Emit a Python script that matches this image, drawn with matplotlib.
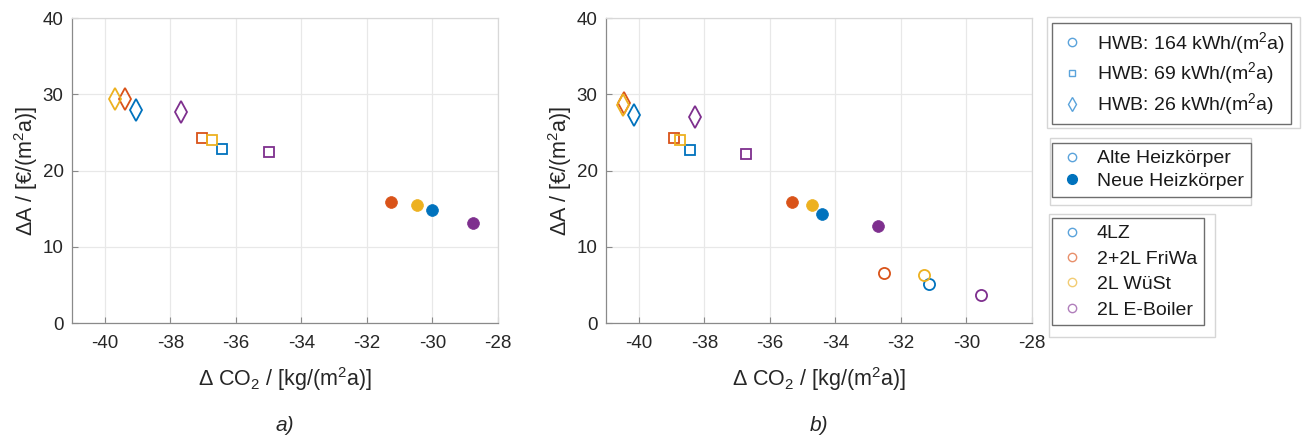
import numpy as np
import matplotlib
matplotlib.use("Agg")
import matplotlib.pyplot as plt
from matplotlib.lines import Line2D
from matplotlib.patches import Rectangle

plt.rcParams['font.family'] = ['Liberation Sans', 'DejaVu Sans']
plt.rcParams['mathtext.fontset'] = 'custom'
plt.rcParams['mathtext.rm'] = 'Liberation Sans'
plt.rcParams['mathtext.it'] = 'Liberation Sans:italic'
plt.rcParams['axes.unicode_minus'] = False

# systems (order: 4LZ, 2+2L FriWa, 2L WüSt, 2L E-Boiler)
systems = ['4LZ', '2+2L FriWa', '2L WüSt', '2L E-Boiler']
colors = ['#0072BD', '#D95319', '#EDB120', '#7E2F8E']

# panel a)
a_co2_26 = [-39.06, -39.38, -39.69, -37.66]
a_cost_26 = [27.95, 29.44, 29.36, 27.7]
a_co2_69 = [-36.41, -37.04, -36.72, -35.0]
a_cost_69 = [22.8, 24.3, 24.06, 22.44]
a_co2_164_new = [-30.02, -31.26, -30.48, -28.76]
a_cost_164_new = [14.79, 15.84, 15.45, 13.16]

# panel b)
b_co2_26 = [-40.14, -40.46, -40.48, -38.29]
b_cost_26 = [27.3, 28.9, 28.65, 27.1]
b_co2_69 = [-38.44, -38.91, -38.75, -36.73]
b_cost_69 = [22.77, 24.3, 24.08, 22.2]
b_co2_164_new = [-34.40, -35.33, -34.71, -32.69]
b_cost_164_new = [14.25, 15.9, 15.47, 12.77]
b_co2_164_old = [-31.13, -32.53, -31.29, -29.57]
b_cost_164_old = [5.07, 6.55, 6.34, 3.67]

hwb_labels = ['HWB: 164 kWh/(m$^2$a)', 'HWB: 69 kWh/(m$^2$a)', 'HWB: 26 kWh/(m$^2$a)']
radiator_labels = ['Alte Heizkörper', 'Neue Heizkörper']

W, H = 1303, 437
fig = plt.figure(figsize=(W / 100, H / 100), dpi=100)


def frac(x0, y0, x1, y1):
    # pixel box (top-left origin) -> figure fraction [left, bottom, width, height]
    return [x0 / W, 1 - y1 / H, (x1 - x0) / W, (y1 - y0) / H]


ax_a = fig.add_axes(frac(72, 18.3, 498, 323))
ax_b = fig.add_axes(frac(606, 18.3, 1032, 323))


def open_pts(ax, xs, ys, marker, ms):
    for x, y, c in zip(xs, ys, colors):
        ax.plot(x, y, linestyle='none', marker=marker, ms=ms, mfc='none',
                mec=c, mew=1.3)


def filled_pts(ax, xs, ys, ms):
    for x, y, c in zip(xs, ys, colors):
        ax.plot(x, y, linestyle='none', marker='o', ms=ms, mfc=c, mec=c, mew=0.5)


open_pts(ax_a, a_co2_26, a_cost_26, 'd', 11)
open_pts(ax_a, a_co2_69, a_cost_69, 's', 6.5)
filled_pts(ax_a, a_co2_164_new, a_cost_164_new, 8.5)

open_pts(ax_b, b_co2_26, b_cost_26, 'd', 11)
open_pts(ax_b, b_co2_69, b_cost_69, 's', 6.5)
filled_pts(ax_b, b_co2_164_new, b_cost_164_new, 8.5)
open_pts(ax_b, b_co2_164_old, b_cost_164_old, 'o', 8)

for ax, tag in [(ax_a, 'a)'), (ax_b, 'b)')]:
    ax.set_xlim(-41, -28)
    ax.set_ylim(0, 40)
    ax.set_xticks(np.arange(-40, -27, 2))
    ax.set_yticks(np.arange(0, 41, 10))
    ax.grid(True, color='#e8e8e8', lw=0.9)
    ax.set_axisbelow(True)
    for s in ax.spines.values():
        s.set_color('#8a8a8a')
        s.set_linewidth(0.9)
    ax.spines['top'].set_color('#d8d8d8')
    ax.spines['right'].set_color('#d8d8d8')
    ax.tick_params(direction='in', length=4, width=0.8, color='#8a8a8a',
                   labelsize=13.5, labelcolor='#262626')
    ax.tick_params(axis='x', pad=9)
    ax.tick_params(axis='y', pad=6)
    ax.set_xlabel('Δ CO$_2$ / [kg/(m$^2$a)]', fontsize=15.5, color='#262626', labelpad=9)
    ax.set_ylabel('ΔA / [€/(m$^2$a)]', fontsize=15.5, color='#262626', labelpad=2)
    ax.text(0.5, -0.335, tag, transform=ax.transAxes, ha='center', va='center',
            fontsize=15, style='italic', color='#262626')

leg_blue = '#5aa3db'
light = ['#5aa3db', '#e88f6a', '#f2cc73', '#b07ebb']

h1 = [Line2D([], [], ls='none', marker=m, ms=ms, mfc='none', mec=leg_blue, mew=1.0)
      for m, ms in [('o', 6), ('s', 5), ('d', 7.5)]]
h2 = [Line2D([], [], ls='none', marker='o', ms=6, mfc='none', mec=leg_blue, mew=1.0),
      Line2D([], [], ls='none', marker='o', ms=7, mfc='#0072BD', mec='#0072BD')]
h3 = [Line2D([], [], ls='none', marker='o', ms=6, mfc='none', mec=c, mew=1.0)
      for c in light]


def boxed_legend(handles, labels, inner, outer, spacing):
    x0, y0 = inner
    leg = fig.legend(handles, labels, loc='upper left',
                     bbox_to_anchor=(x0 / W, 1 - y0 / H), borderaxespad=0,
                     fontsize=14, frameon=True, fancybox=False,
                     edgecolor='#6e6e6e', framealpha=1, labelspacing=spacing,
                     handlelength=1.35, handletextpad=0.6, borderpad=0.35)
    leg.get_frame().set_linewidth(1.0)
    for t in leg.get_texts():
        t.set_color('#1a1a1a')
    ox0, oy0, ox1, oy1 = outer
    fig.patches.append(Rectangle((ox0 / W, 1 - oy1 / H), (ox1 - ox0) / W, (oy1 - oy0) / H,
                                 transform=fig.transFigure, fill=False,
                                 edgecolor='#d6d6d6', lw=1.0, zorder=-1))
    return leg


boxed_legend(h1, hwb_labels, (1052, 23), (1047, 17, 1300, 128), 0.25)
boxed_legend(h2, radiator_labels, (1052, 143), (1050, 138, 1251, 205), 0.25)
boxed_legend(h3, systems, (1052, 218), (1049, 214, 1215, 337), 0.4)

fig.savefig('out.png', dpi=100)
